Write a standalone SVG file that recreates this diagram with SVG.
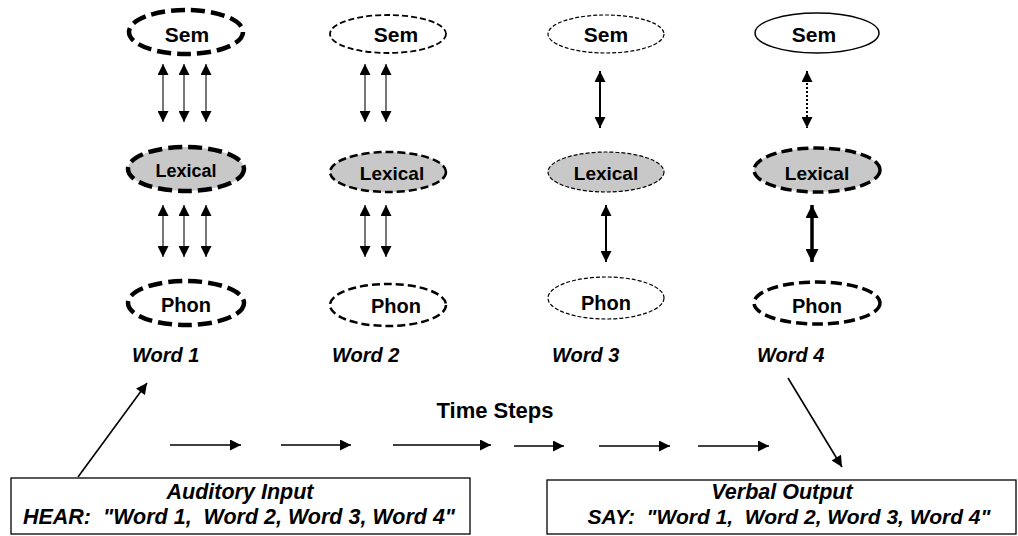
<svg xmlns="http://www.w3.org/2000/svg" width="1018" height="536" viewBox="0 0 1018 536">
<style>
text{white-space:pre}
.lbl{font-family:"Liberation Sans",Arial,sans-serif;font-weight:bold;font-size:20px;fill:#000;text-anchor:middle}
.word{font-family:"Liberation Sans",Arial,sans-serif;font-weight:bold;font-style:italic;font-size:20px;fill:#000}
.box{fill:#fff;stroke:#000;stroke-width:1.3}
.boxt{font-family:"Liberation Sans",Arial,sans-serif;font-weight:bold;font-style:italic;font-size:21.5px;fill:#000;text-anchor:middle}
.white{fill:#fff}
.gray{fill:#c8c8c8}
.thick{stroke:#000;stroke-width:4.5;stroke-dasharray:14 6}
.med{stroke:#000;stroke-width:2.5;stroke-dasharray:8 4}
.medthin{stroke:#000;stroke-width:1.8;stroke-dasharray:6 3}
.thin{stroke:#000;stroke-width:1.2;stroke-dasharray:4 2}
.solid{stroke:#000;stroke-width:1.5}
.w4d{stroke:#000;stroke-width:3.5;stroke-dasharray:11 5}
.c{fill:none;stroke:#000;stroke-width:1.6;marker-end:url(#ah);marker-start:url(#ah)}
.c1{stroke:#555}
.one{fill:none;stroke:#000;stroke-width:1.6;marker-end:url(#ah)}
</style>
<defs>
<marker id="ah" viewBox="0 0 10 10" refX="10" refY="5" markerWidth="12" markerHeight="11" markerUnits="userSpaceOnUse" orient="auto-start-reverse">
<path d="M0,0 L10,5 L0,10 z" fill="#000"/>
</marker>
<marker id="ahb" viewBox="0 0 10 10" refX="10" refY="5" markerWidth="13" markerHeight="13" markerUnits="userSpaceOnUse" orient="auto-start-reverse">
<path d="M0,0 L10,5 L0,10 z" fill="#000"/>
</marker>
</defs>

<g id="word1">
<g id="w1-sem"><ellipse cx="186" cy="32" rx="57" ry="22" class="white thick"/><text x="187" y="42" class="lbl" style="font-size:21px">Sem</text></g>
<g id="w1-lex"><ellipse cx="186" cy="169" rx="58" ry="22" class="gray thick"/><text x="186" y="177" class="lbl" style="font-size:18px">Lexical</text></g>
<g id="w1-phon"><ellipse cx="186" cy="303" rx="58" ry="22" class="white thick"/><text x="186" y="312" class="lbl">Phon</text></g>
<text x="132" y="362" class="word">Word 1</text>
</g>

<g id="word2">
<g id="w2-sem"><ellipse cx="388" cy="34" rx="58" ry="19" class="white medthin"/><text x="396" y="42" class="lbl" style="font-size:21px">Sem</text></g>
<g id="w2-lex"><ellipse cx="388" cy="172" rx="58" ry="20" class="gray med"/><text x="392" y="180" class="lbl" style="font-size:19px">Lexical</text></g>
<g id="w2-phon"><ellipse cx="388" cy="305" rx="58" ry="21" class="white med"/><text x="396" y="313" class="lbl">Phon</text></g>
<text x="332" y="362" class="word">Word 2</text>
</g>

<g id="word3">
<g id="w3-sem"><ellipse cx="606" cy="34" rx="58" ry="19" class="white thin"/><text x="606" y="42" class="lbl" style="font-size:21px">Sem</text></g>
<g id="w3-lex"><ellipse cx="606" cy="172" rx="58" ry="20" class="gray thin"/><text x="606" y="180" class="lbl" style="font-size:19px">Lexical</text></g>
<g id="w3-phon"><ellipse cx="606" cy="298" rx="58" ry="21" class="white thin"/><text x="606" y="310" class="lbl">Phon</text></g>
<text x="552" y="362" class="word">Word 3</text>
</g>

<g id="word4">
<g id="w4-sem"><ellipse cx="817" cy="33" rx="62" ry="20" class="white solid"/><text x="814" y="42" class="lbl" style="font-size:21px">Sem</text></g>
<g id="w4-lex"><ellipse cx="817" cy="170" rx="63" ry="22" class="gray w4d"/><text x="817" y="180" class="lbl" style="font-size:19px">Lexical</text></g>
<g id="w4-phon"><ellipse cx="817" cy="303" rx="63" ry="21" class="white w4d"/><text x="817" y="313" class="lbl">Phon</text></g>
<text x="757" y="362" class="word">Word 4</text>
</g>

<g id="time-steps-label"><text x="495" y="418" class="lbl" style="font-size:22px">Time Steps</text></g>

<g id="box-input"><rect x="11" y="478" width="459" height="56" class="box"/>
<text x="240" y="499" class="boxt">Auditory Input</text>
<text x="239" y="524" class="boxt">HEAR:  "Word 1,  Word 2, Word 3, Word 4"</text></g>

<g id="box-output"><rect x="547" y="480" width="469" height="54" class="box"/>
<text x="782" y="499" class="boxt">Verbal Output</text>
<text x="789" y="524" class="boxt" style="font-size:21px">SAY:  "Word 1,  Word 2, Word 3, Word 4"</text></g>

<g id="connectors">
<line x1="163" y1="64" x2="163" y2="122" class="c c1"/>
<line x1="184" y1="64" x2="184" y2="122" class="c c1"/>
<line x1="206" y1="64" x2="206" y2="122" class="c c1"/>
<line x1="163" y1="205" x2="163" y2="257" class="c c1"/>
<line x1="184" y1="205" x2="184" y2="257" class="c c1"/>
<line x1="206" y1="205" x2="206" y2="257" class="c c1"/>
<line x1="365" y1="64" x2="365" y2="122" class="c c1"/>
<line x1="386" y1="64" x2="386" y2="122" class="c c1"/>
<line x1="365" y1="205" x2="365" y2="257" class="c c1"/>
<line x1="386" y1="205" x2="386" y2="257" class="c c1"/>
<line x1="600" y1="71" x2="600" y2="128" class="c" style="stroke-width:2"/>
<line x1="606" y1="205" x2="606" y2="262" class="c" style="stroke-width:2"/>
<line x1="807" y1="71" x2="807" y2="128" class="c" style="stroke-width:2;stroke-dasharray:2 2"/>
<line x1="812" y1="205" x2="812" y2="262" class="c" style="stroke-width:3.5;marker-start:url(#ahb);marker-end:url(#ahb)"/>
<line x1="170" y1="445" x2="241" y2="445" class="one"/>
<line x1="281" y1="445" x2="351" y2="445" class="one"/>
<line x1="393" y1="445" x2="491" y2="445" class="one"/>
<line x1="514" y1="446" x2="564" y2="446" class="one"/>
<line x1="599" y1="446" x2="670" y2="446" class="one"/>
<line x1="698" y1="446" x2="769" y2="446" class="one"/>
<line x1="78" y1="477" x2="147" y2="383" class="one"/>
<line x1="788" y1="378" x2="842" y2="467" class="one"/>
</g>
</svg>
